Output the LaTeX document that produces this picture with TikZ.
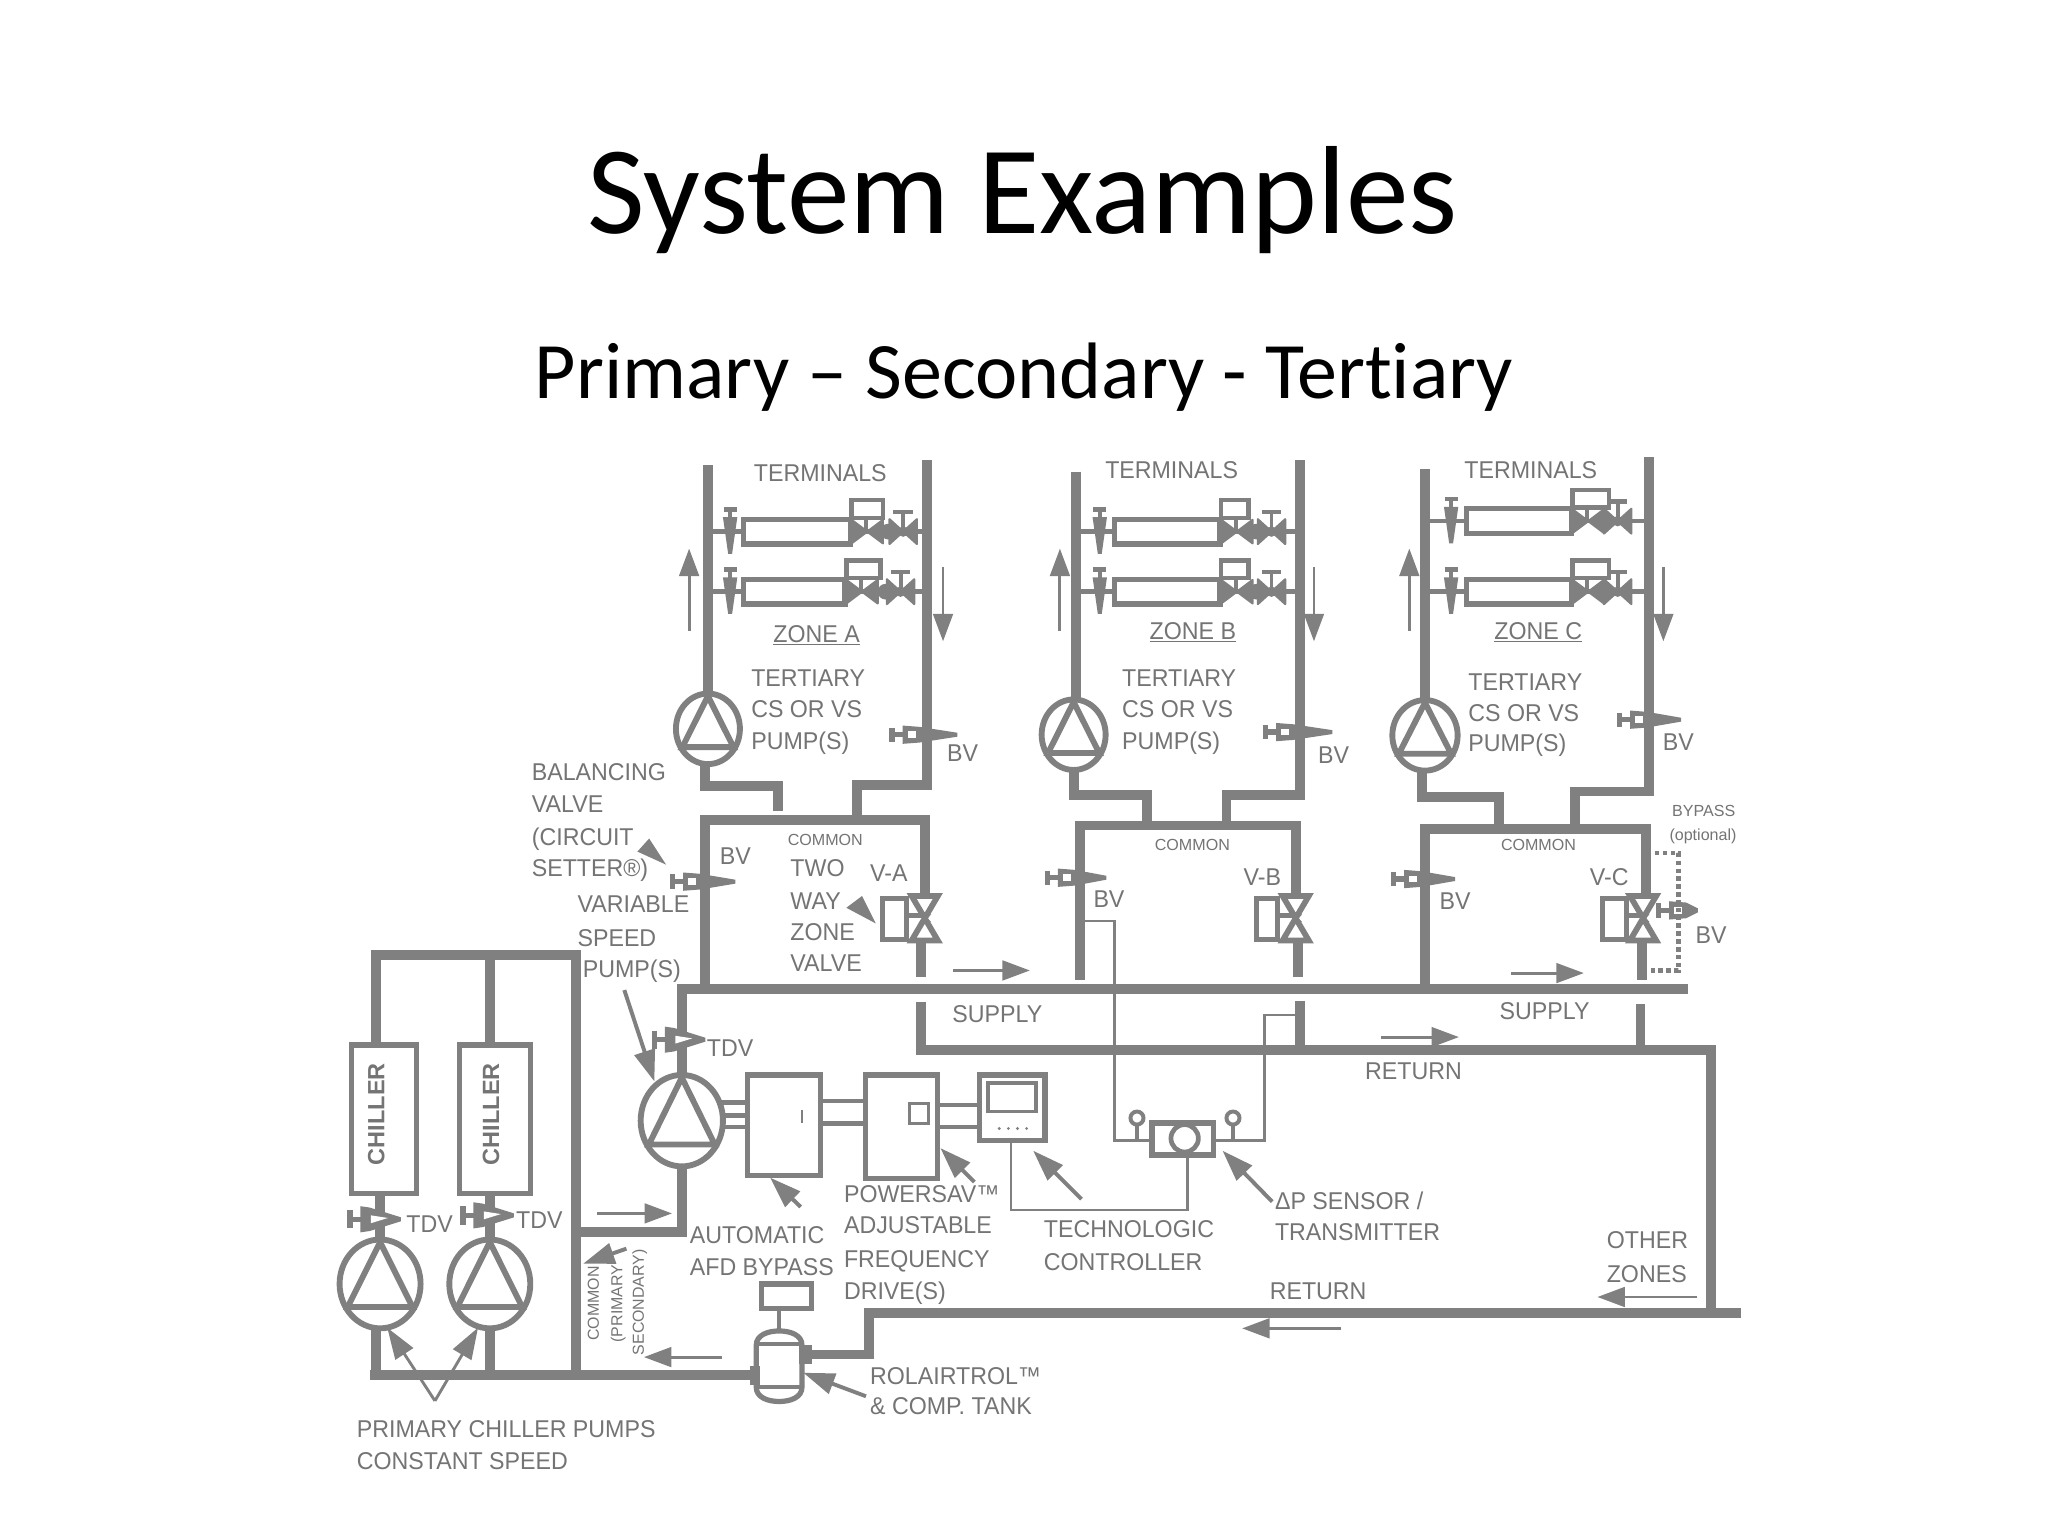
\documentclass[tikz,border=0pt]{standalone}
\usepackage{fontspec}
\setmainfont{Liberation Sans}
\newfontfamily\titlefont[Ligatures=NoCommon]{Carlito}
\newfontfamily\lblfont[FakeStretch=0.955]{Liberation Sans}
\usetikzlibrary{arrows.meta,shapes.geometric}
\definecolor{pipec}{HTML}{808080}
\definecolor{textc}{HTML}{747474}
\newcounter{lblc}
\tikzset{
  pipe/.style={draw=pipec,line width=7.6pt,line join=miter},
  rule/.style={draw=pipec,line width=4pt},
  hair/.style={draw=pipec,line width=2pt},
  flow/.style={draw=pipec,line width=2.2pt,-{Triangle[length=21pt,width=15pt,color=pipec]}},
  call/.style={draw=pipec,line width=3pt,-{Triangle[length=24pt,width=16pt,color=pipec]}},
  lbl/.style={inner sep=0pt,anchor=west,text=textc,font=\lblfont\fontsize{18.6}{20}\selectfont,text height=13.4pt,text depth=0pt},
  small/.style={inner sep=0pt,anchor=west,text=textc,font=\fontsize{12.3}{14}\selectfont,text height=9pt,text depth=0pt},
  rotlbl/.style={inner sep=0pt,text=textc,rotate=90,font=\fontsize{12.2}{14}\selectfont,text height=9pt,text depth=0pt},
  boxn/.style={draw=pipec,line width=4pt,fill=white,inner sep=0pt,outer sep=0pt,rectangle},
  pumpn/.style={draw=pipec,line width=4.5pt,fill=white,ellipse,inner sep=0pt,outer sep=0pt},
}
% text label: x, y, text
\newcommand\lb[3]{\stepcounter{lblc}\node[lbl] (t\thelblc) at (#1,#2) {#3};}
\newcommand\sm[3]{\stepcounter{lblc}\node[small] (t\thelblc) at (#1,#2) {#3};}
\newcommand\ul[3]{\stepcounter{lblc}\node[lbl] (t\thelblc) at (#1,#2) {\underline{#3}};}
% pump: name,x,y,rx,ry
\newcommand\pumpsym[5]{%
  \node[pumpn,minimum width=2*#4,minimum height=2*#5] (#1) at (#2,#3) {};
  \draw[draw=pipec,line width=4.5pt,line join=miter]
    (#2,#3-#5+2) -- (#2-0.80*#4,#3+0.52*#5) -- (#2+0.80*#4,#3+0.52*#5) -- cycle;
  \draw[draw=pipec,line width=3pt] (#2-0.85*#4,#3+0.52*#5) -- (#2+0.85*#4,#3+0.52*#5);
}
% horizontal balancing valve: handle x, tip x, y
\newcommand\bvh[3]{%
  \draw[draw=pipec,line width=4pt] (#1,#3-5.5) -- (#1,#3+5.5);
  \draw[draw=pipec,line width=4pt] (#1,#3) -- (#1+9,#3);
  \fill[pipec] (#1+8,#3-7) -- (#1+21,#3-6) -- (#2,#3-1.5) -- (#2,#3+1.5) -- (#1+21,#3+6) -- (#1+8,#3+7) -- cycle;
  \fill[white] (#1+12,#3-2.5) rectangle (#1+18,#3+2.5);
}
% TDV: handle x, tip x, y
\newcommand\tdv[3]{%
  \draw[draw=pipec,line width=4pt] (#1,#3-7) -- (#1,#3+7);
  \draw[draw=pipec,line width=4pt] (#1,#3) -- (#1+9,#3);
  \fill[pipec] (#1+8,#3-10) -- (#1+15,#3-9) -- (#2,#3-1.5) -- (#2,#3+1.5) -- (#1+15,#3+9) -- (#1+8,#3+10) -- cycle;
  \fill[white] (#1+16,#3-3) -- (#2-10,#3-1) -- (#1+16,#3+3) -- cycle;
}
% zone valve: x, top y, bottom y
\newcommand\zvalve[3]{%
  \draw[draw=pipec,fill=white,line width=4.4pt,line join=miter]
    (#1-10,#2) -- (#1+10,#2) -- (#1-10,#3) -- (#1+10,#3) -- cycle;
  \fill[pipec] (#1-5,#2+14) -- (#1+5,#2+14) -- (#1,#2+19) -- (#1-5,#3-14) -- (#1+5,#3-14) -- (#1,#3-19) -- cycle;
}
% terminal row: y, xL, balancing x, coil x1, coil x2, xR, v2 offset, box width
\newcommand\termrow[8]{%
  \draw[draw=pipec,line width=3.4pt] (#2,#1) -- (#4,#1);
  \draw[draw=pipec,line width=3.4pt] (#5,#1) -- (#6,#1);
  \draw[draw=pipec,line width=3.4pt] (#3-5,#1-17) -- (#3+5,#1-17);
  \draw[draw=pipec,line width=3.4pt] (#3,#1-17) -- (#3,#1-8);
  \fill[pipec] (#3-5.5,#1-11) -- (#3+5.5,#1-11) -- (#3+1.5,#1+17) -- (#3-1.5,#1+17) -- cycle;
  \draw[boxn] (#4,#1-9.5) rectangle (#5,#1+9.5);
  \draw[boxn,line width=3.4pt] (#5+1,#1-24) rectangle (#5+1+#8,#1-10.5);
  \draw[draw=pipec,line width=3pt] (#5+12,#1-10) -- (#5+12,#1);
  \filldraw[pipec,line width=1.6pt,line join=round] (#5+1,#1-9) -- (#5+25,#1+9) -- (#5+25,#1-9) -- (#5+1,#1+9) -- cycle;
  \filldraw[pipec,line width=1.6pt,line join=round] (#5+#7,#1-9.5) -- (#5+#7+21,#1+9.5) -- (#5+#7+21,#1-9.5) -- (#5+#7,#1+9.5) -- cycle;
  \draw[draw=pipec,line width=3pt] (#5+#7+10.5,#1-15) -- (#5+#7+10.5,#1);
  \draw[draw=pipec,line width=3.6pt] (#5+#7+3,#1-15) -- (#5+#7+18,#1-15);
  \fill[pipec] (#5+#7-1,#1) circle (6);
  \fill[pipec] (#5+#7+10.5,#1) circle (4);
}
\begin{document}
\begin{tikzpicture}[x=1pt,y=-1pt]
\useasboundingbox (0,0) rectangle (1568,1176);
\fill[white] (0,0) rectangle (1568,1176);

% ---- titles
\node[inner sep=0pt,font=\titlefont\fontsize{96}{104}\selectfont] (title) at (783,153) {System Examples};
\node[inner sep=0pt,font=\titlefont\fontsize{61.3}{68}\selectfont] (subtitle) at (784,289) {Primary – Secondary - Tertiary};

% ---- pumps
\pumpsym{pA}{542}{558}{24.5}{27}
\pumpsym{pB}{822}{562.5}{24.5}{27}
\pumpsym{pC}{1091}{563}{25}{27}
\pumpsym{pP}{522}{858}{31.5}{35}
\pumpsym{pF}{291}{983}{31}{34}
\pumpsym{pG}{375}{983}{31}{34}

% ---- zone A pipes
\coordinate (aTop) at (542,356);
\draw[pipe] (aTop) -- (pA.north);
\draw[pipe] (710,352) -- (710,601) -- (656,601) -- (656,628);
\draw[pipe] (540,0 |- pA.south) -- (540,602) -- (596,602) -- (596,621);
\draw[pipe] (540,757) -- (540,628) -- (708,628) -- (708,686);
\draw[pipe] (705,720) -- (705,748);

% ---- zone B pipes
\draw[pipe] (824,361) -- (824,0 |- pB.north);
\draw[pipe] (995,352) -- (995,608.5) -- (939,608.5) -- (939,632);
\draw[pipe] (pB.south) -- (822,608.5) -- (878,608.5) -- (878,632);
\draw[pipe] (827,750) -- (827,632) -- (992,632) -- (992,686);
\draw[pipe] (994,720) -- (994,748);

% ---- zone C pipes
\draw[pipe] (1091,359) -- (pC.north);
\draw[pipe] (1262.5,350) -- (1262.5,606) -- (1206,606) -- (1206,635);
\draw[pipe] (1089,0 |- pC.south) -- (1089,610) -- (1148,610) -- (1148,635);
\draw[pipe] (1091,757) -- (1091,635) -- (1260,635) -- (1260,686);
\draw[pipe] (1257,720) -- (1257,750);

% ---- mains
\draw[pipe] (pP.north) -- (522,757) -- (1292,757);
\draw[pipe] (705,767) -- (705,804) -- (1310,804) -- (1310,1005);
\draw[pipe] (995,766) -- (995,804);
\draw[pipe] (1256,769) -- (1256,804);
\draw[pipe] (1333,1005) -- (665,1005) -- (665,1037) -- (618,1037);
\draw[pipe] (pP.south) -- (522,943) -- (441,943);

% ---- chillers and primary loop
\node[boxn,minimum width=50pt,minimum height=114pt] (ch1) at (294,857) {};
\node[boxn,minimum width=54pt,minimum height=114pt] (ch2) at (379,857) {};
\node[inner sep=0pt,rotate=90,text=textc,font=\bfseries\fontsize{18}{20}\selectfont] (ch1t) at (288,853) {CHILLER};
\node[inner sep=0pt,rotate=90,text=textc,font=\bfseries\fontsize{18}{20}\selectfont] (ch2t) at (376,853) {CHILLER};
\draw[pipe] (288,800) -- (288,731) -- (441,731) -- (441,1053);
\draw[pipe] (375,731) -- (375,800);
\draw[pipe] (291,914) -- (pF.north);
\draw[pipe] (375,914) -- (pG.north);
\draw[pipe] (288,0 |- pF.south) -- (288,1053);
\draw[pipe] (pG.south) -- (375,1053);
\draw[pipe] (283,1053) -- (585,1053);

% ---- tank
\draw[draw=pipec,fill=white,line width=4pt] (579,1030) .. controls (579,1022) and (588,1019) .. (596.5,1019) .. controls (605,1019) and (614,1022) .. (614,1030) -- (614,1062) .. controls (614,1070) and (605,1073) .. (596.5,1073) .. controls (588,1073) and (579,1070) .. (579,1062) -- cycle;
\draw[draw=pipec,line width=3pt] (579,1029) -- (614,1029);
\draw[draw=pipec,line width=3pt] (579,1062) -- (614,1062);
\fill[pipec] (574,1046) rectangle (582,1060);
\fill[pipec] (612,1030) rectangle (622,1044);
\node[boxn,minimum width=38pt,minimum height=19pt] (tkb) at (602,992.5) {};
\draw[rule,line width=3pt] (596.5,1002) -- (596.5,1019);

% ---- drive train
\node[boxn,minimum width=56pt,minimum height=77pt] (byp) at (600,861.5) {};
\node[boxn,minimum width=55pt,minimum height=79pt] (vfd) at (690,862.5) {};
\node[boxn,minimum width=50pt,minimum height=50pt] (ctl) at (775,848) {};
\node[boxn,line width=3pt,minimum width=37pt,minimum height=22pt] (scr) at (775,840) {};
\node[boxn,line width=2.4pt,minimum width=15pt,minimum height=15pt] (vsq) at (703.5,852.5) {};
\draw[draw=pipec,line width=2pt] (614,850) -- (614,860);
\foreach \yy in {844,854,863} \draw[rule,line width=3.4pt] (553,\yy) -- (byp.west |- 0,\yy);
\foreach \yy in {843,860} \draw[rule,line width=3.4pt] (byp.east |- 0,\yy) -- (vfd.west |- 0,\yy);
\foreach \yy in {846,863} \draw[rule,line width=3.4pt] (vfd.east |- 0,\yy) -- (ctl.west |- 0,\yy);
\foreach \xx in {765,772,779,786} \fill[pipec] (\xx,864) circle (1.2);

% ---- differential pressure sensor
\node[boxn,line width=4.4pt,minimum width=47pt,minimum height=24pt] (sns) at (905.5,872) {};
\node[circle,draw=pipec,line width=3.6pt,fill=white,minimum size=21pt,inner sep=0pt] (snc) at (907,871.5) {};
\draw[rule,line width=3pt] (870.5,873) -- (870.5,860);
\draw[rule,line width=3pt] (944,873) -- (944,860);
\node[circle,draw=pipec,line width=3pt,fill=white,minimum size=10pt,inner sep=0pt] (sn1) at (870.5,856) {};
\node[circle,draw=pipec,line width=3pt,fill=white,minimum size=10pt,inner sep=0pt] (sn2) at (944,856) {};
\draw[hair] (827,705) -- (853.5,705) -- (853.5,873) -- (sns.west |- 0,873);
\draw[hair] (995,777) -- (968,777) -- (968,873) -- (sns.east |- 0,873);
\draw[hair] (774,0 |- ctl.south) -- (774,926.5) -- (909,926.5) -- (909,884);

% ---- terminals
\termrow{407}{542}{559}{569}{651}{710}{30}{24}
\termrow{453}{542}{559}{569}{647}{710}{32}{26}
\termrow{407}{824}{842}{853}{934}{995}{29}{21}
\termrow{453}{824}{842}{853}{934}{995}{29}{21}
\termrow{399}{1091}{1111}{1123}{1203}{1262}{25}{28}
\termrow{453}{1091}{1111}{1123}{1203}{1262}{25}{28}

% ---- balancing valves
\bvh{683}{733}{562.5}
\bvh{515}{563}{675}
\bvh{969}{1020}{560.5}
\bvh{802}{847}{672}
\bvh{1240}{1287}{551}
\bvh{1067}{1114}{673}
\bvh{1270}{1300}{697}
\tdv{501}{540}{796}
\tdv{268}{307}{933.5}
\tdv{354.5}{393.5}{930.5}

% ---- zone valves
\zvalve{708}{686}{720}
\draw[draw=pipec,line width=4pt,fill=white] (675.5,688) rectangle (694,719);
\draw[rule] (694,701) -- (706,701);
\zvalve{992}{686}{720}
\draw[draw=pipec,line width=4pt,fill=white] (962,688) rectangle (978,719);
\draw[rule] (978,701) -- (990,701);
\zvalve{1258}{686}{720}
\draw[draw=pipec,line width=4pt,fill=white] (1227,688) rectangle (1245,719);
\draw[rule] (1245,701) -- (1256,701);

% ---- optional bypass
\draw[draw=pipec,line width=3.4pt,dash pattern=on 3.5pt off 2.5pt] (1267,653) -- (1285,653) -- (1285,743) -- (1264,743);

% ---- flow arrows
\coordinate (f1a) at (527.6,483); \coordinate (f1b) at (527.6,420);
\draw[flow] (f1a) -- (f1b);
\coordinate (f2a) at (722,434); \coordinate (f2b) at (722,491);
\draw[flow] (f2a) -- (f2b);
\coordinate (f3a) at (811.5,483); \coordinate (f3b) at (811.5,420);
\draw[flow] (f3a) -- (f3b);
\coordinate (f4a) at (1006,434); \coordinate (f4b) at (1006,491);
\draw[flow] (f4a) -- (f4b);
\coordinate (f5a) at (1079,483); \coordinate (f5b) at (1079,420);
\draw[flow] (f5a) -- (f5b);
\coordinate (f6a) at (1273.5,434); \coordinate (f6b) at (1273.5,491);
\draw[flow] (f6a) -- (f6b);
\coordinate (f7a) at (730,743); \coordinate (f7b) at (788.5,743);
\draw[flow] (f7a) -- (f7b);
\coordinate (f8a) at (1157,745); \coordinate (f8b) at (1212.6,745);
\draw[flow] (f8a) -- (f8b);
\coordinate (f9a) at (1057,794); \coordinate (f9b) at (1117,794);
\draw[flow] (f9a) -- (f9b);
\coordinate (f10a) at (1299.5,993); \coordinate (f10b) at (1223,993);
\draw[flow] (f10a) -- (f10b);
\coordinate (f11a) at (1027,1017); \coordinate (f11b) at (951,1017);
\draw[flow] (f11a) -- (f11b);
\coordinate (f12a) at (457,929); \coordinate (f12b) at (514.5,929);
\draw[flow] (f12a) -- (f12b);
\coordinate (f13a) at (553,1039); \coordinate (f13b) at (493,1039);
\draw[flow] (f13a) -- (f13b);

% ---- callouts
\fill[pipec] (510,662) -- (488,652) -- (497,642) -- cycle;
\fill[pipec] (670.5,707) -- (648,695) -- (660,686) -- cycle;
\coordinate (c1a) at (478,758); \coordinate (c1b) at (501,828);
\draw[call] (c1a) -- (c1b);
\coordinate (c2a) at (613,924); \coordinate (c2b) at (589.6,901.6);
\draw[call] (c2a) -- (c2b);
\coordinate (c3a) at (746,905); \coordinate (c3b) at (720,879);
\draw[call] (c3a) -- (c3b);
\coordinate (c4a) at (828,918); \coordinate (c4b) at (791,881);
\draw[call] (c4a) -- (c4b);
\coordinate (c5a) at (974,920); \coordinate (c5b) at (936,881);
\draw[call] (c5a) -- (c5b);
\coordinate (c6a) at (663,1069); \coordinate (c6b) at (615,1051);
\draw[call] (c6a) -- (c6b);
\coordinate (c7a) at (479.6,956); \coordinate (c7b) at (446.5,967.5);
\draw[call] (c7a) -- (c7b);
\coordinate (c8a) at (333,1072.5); \coordinate (c8b) at (296.5,1016.5); \coordinate (c8c) at (366,1016.5);
\draw[call,line width=2.2pt] (c8a) -- (c8b);
\draw[call,line width=2.2pt] (c8a) -- (c8c);

% ---- labels
\lb{577}{362}{TERMINALS}
\lb{846}{360}{TERMINALS}
\lb{1121}{360}{TERMINALS}
\ul{592}{485}{ZONE A}
\ul{880}{483}{ZONE B}
\ul{1144}{483}{ZONE C}
\lb{575}{519}{TERTIARY}\lb{575}{543}{CS OR VS}\lb{575}{567}{PUMP(S)}
\lb{859}{519}{TERTIARY}\lb{859}{543}{CS OR VS}\lb{859}{567}{PUMP(S)}
\lb{1124}{522}{TERTIARY}\lb{1124}{546}{CS OR VS}\lb{1124}{569}{PUMP(S)}
\lb{725}{576}{BV}\lb{1009}{578}{BV}\lb{1273}{568}{BV}
\lb{551}{655}{BV}\lb{837}{688}{BV}\lb{1102}{690}{BV}\lb{1298}{716}{BV}
\lb{407}{591}{BALANCING}\lb{407}{615}{VALVE}\lb{407}{641}{(CIRCUIT}\lb{407}{664}{SETTER®)}
\lb{442}{692}{VARIABLE}\lb{442}{718}{SPEED}\lb{446}{742}{PUMP(S)}
\sm{603}{643}{COMMON}\sm{884}{647}{COMMON}\sm{1149}{647}{COMMON}
\lb{605}{664}{TWO}\lb{605}{690}{WAY}\lb{605}{713}{ZONE}\lb{605}{737}{VALVE}
\lb{666}{668}{V-A}\lb{952}{671}{V-B}\lb{1217}{671}{V-C}
\sm{1280}{621}{BYPASS}\sm{1278}{639}{(optional)}
\lb{729}{776}{SUPPLY}\lb{1148}{774}{SUPPLY}
\lb{1045}{820}{RETURN}\lb{972}{988}{RETURN}
\lb{1230}{949}{OTHER}\lb{1230}{975}{ZONES}
\lb{541}{802}{TDV}\lb{311}{937}{TDV}\lb{395}{934}{TDV}
\lb{528}{945}{AUTOMATIC}\lb{528}{970}{AFD BYPASS}
\lb{646}{914}{POWERSAV™}\lb{646}{938}{ADJUSTABLE}\lb{646}{964}{FREQUENCY}\lb{646}{988}{DRIVE(S)}
\lb{799}{941}{TECHNOLOGIC}\lb{799}{966}{CONTROLLER}
\lb{976}{919}{ΔP SENSOR /}\lb{976}{943}{TRANSMITTER}
\lb{666}{1053}{ROLAIRTROL™}\lb{666}{1076}{\& COMP. TANK}
\lb{273}{1094}{PRIMARY CHILLER PUMPS}\lb{273}{1118}{CONSTANT SPEED}
\node[rotlbl] (rc1) at (454,998) {COMMON};
\node[rotlbl] (rc2) at (472,998) {(PRIMARY};
\node[rotlbl] (rc3) at (488.5,997) {SECONDARY)};
\end{tikzpicture}
\end{document}
